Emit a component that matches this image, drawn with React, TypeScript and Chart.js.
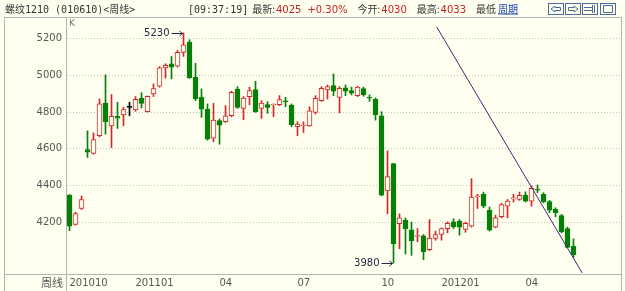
import React, { useEffect, useRef } from "react";
import { Chart, registerables } from "chart.js";

Chart.register(...registerables);

// Weekly candles for rebar contract 1210, oldest first
const OPEN = [
  4349, 4190, 4276, 4596, 4575, 4671, 4849, 4725, 4778, 4784,
  4825, 4811, 4876, 4802, 4898, 4940, 5040, 5062, 5049, 5124,
  5180, 4989, 4880, 4816, 4658, 4753, 4747, 4780, 4925, 4820,
  4884, 4922, 4820, 4840, 4838, 4840, 4858, 4838, 4720, 4724,
  4725, 4798, 4862, 4920, 4944, 4880, 4931, 4916, 4889, 4927,
  4878, 4871, 4780, 4371, 4520, 4193, 4213, 4160, 4124, 4127,
  4053, 4113, 4135, 4167, 4204, 4207, 4162, 4180, 4340, 4353,
  4267, 4175, 4231, 4289, 4328, 4325, 4349, 4316, 4378, 4353,
  4313, 4271, 4238, 4167, 4071,
];
const HIGH = [
  4352, 4256, 4344, 4698, 4687, 4871, 5002, 4895, 4853, 4825,
  4853, 4884, 4905, 4887, 4953, 5047, 5062, 5102, 5135, 5230,
  5193, 5065, 4925, 4844, 4847, 4762, 4835, 4913, 4938, 4884,
  4935, 4967, 4862, 4856, 4844, 4889, 4880, 4844, 4747, 4747,
  4829, 4889, 4938, 4947, 5007, 4938, 4947, 4935, 4940, 4935,
  4893, 4876, 4802, 4589, 4522, 4247, 4225, 4202, 4167, 4135,
  4216, 4153, 4171, 4204, 4220, 4216, 4202, 4438, 4353, 4365,
  4284, 4240, 4304, 4325, 4353, 4365, 4367, 4398, 4404, 4362,
  4320, 4280, 4244, 4175, 4111,
];
const LOW = [
  4156, 4186, 4271, 4553, 4571, 4665, 4680, 4607, 4711, 4725,
  4780, 4804, 4822, 4800, 4884, 4935, 4984, 4980, 5044, 5102,
  4983, 4862, 4771, 4647, 4638, 4625, 4744, 4775, 4820, 4758,
  4840, 4798, 4765, 4793, 4775, 4835, 4829, 4720, 4671, 4689,
  4722, 4789, 4858, 4871, 4889, 4795, 4889, 4893, 4884, 4886,
  4858, 4756, 4345, 4247, 3980, 4058, 4029, 4022, 4095, 3998,
  4047, 4104, 4104, 4144, 4167, 4131, 4147, 4175, 4276, 4280,
  4153, 4171, 4225, 4225, 4311, 4320, 4311, 4289, 4362, 4307,
  4253, 4231, 4144, 4062, 4011,
];
const CLOSE = [
  4180, 4249, 4325, 4582, 4651, 4844, 4747, 4776, 4767, 4813,
  4825, 4869, 4847, 4885, 4927, 5040, 5053, 5044, 5124, 5165,
  4985, 4871, 4816, 4653, 4756, 4729, 4780, 4907, 4825, 4876,
  4916, 4802, 4849, 4825, 4842, 4867, 4855, 4731, 4735, 4727,
  4807, 4875, 4929, 4938, 4913, 4929, 4913, 4902, 4935, 4893,
  4875, 4785, 4349, 4449, 4085, 4225, 4167, 4102, 4127, 4040,
  4116, 4135, 4167, 4195, 4176, 4175, 4195, 4338, 4344, 4289,
  4158, 4225, 4298, 4316, 4331, 4347, 4316, 4385, 4376, 4313,
  4267, 4253, 4149, 4065, 4025,
];

// Hand-drawn down-trend line (week index, price)
const TREND_X = [61.2, 85.45];
const TREND_Y = [5262, 3926];

// Axis ticks
const Y_TICKS = [4200, 4400, 4600, 4800, 5000, 5200];
const X_TICK_AT = [0, 11, 25, 38, 52, 62, 76];
const X_TICK_TEXT = ["201010", "201101", "04", "07", "10", "201201", "04"];

// Quote header
const TITLE = "螺纹1210 (010610)<周线>";
const CLOCK = "[09:37:19]";
const LAST = "4025";
const CHANGE = "+0.30%";
const OPEN_TODAY = "4030";
const HIGH_TODAY = "4033";

const W = 625;
const H = 291;
const BG = "#fffff0";
const UP = "#d02828";
const DOWN = "#078007";
const FLAT = "#000000";
const GRID = "#c4c4c4";
const FRAME = "#b4b4b4";
const TEXT = "#333333";
const NUM_RED = "#c81e1e";
const LINK = "#1a3fb0";
const TREND_COLOR = "#4d2377";

const CJK = "'Noto Sans CJK SC'";
const MONO = "'DejaVu Sans Mono'";
const SANS = "'DejaVu Sans'";

// x scale: first candle centred just inside the left axis, 6px per week
const X_MIN = -2.5 / 6;
const X_MAX = X_MIN + 554 / 6;
// y scale framing around the 4200..5200 grid
const Y_MIN = 3920.3;
const Y_MAX = 5310.7;

function candleColor(i: number | undefined): string {
  if (i === undefined) return FLAT;
  if (CLOSE[i] > OPEN[i]) return UP;
  if (CLOSE[i] < OPEN[i]) return DOWN;
  return FLAT;
}
function bodyFill(i: number | undefined): string {
  if (i === undefined) return BG;
  return CLOSE[i] > OPEN[i] ? BG : candleColor(i);
}

function line(ctx: CanvasRenderingContext2D, x1: number, y1: number, x2: number, y2: number) {
  ctx.beginPath();
  ctx.moveTo(x1, y1);
  ctx.lineTo(x2, y2);
  ctx.stroke();
}

function drawHeader(ctx: CanvasRenderingContext2D) {
  const base = 12.5;
  ctx.textBaseline = "alphabetic";
  ctx.textAlign = "left";
  const mix = `10px ${MONO}, ${CJK}`;
  const cjk = `10px ${CJK}`;
  const num = `10px ${SANS}`;
  let x = 0;
  // writes a piece and advances the pen
  const put = (t: string, color: string, font: string, gap = 0) => {
    ctx.font = font;
    ctx.fillStyle = color;
    ctx.fillText(t, x, base);
    const w = ctx.measureText(t).width;
    const start = x;
    x += w + gap;
    return [start, start + w];
  };
  x = 5;
  put(TITLE, TEXT, mix);
  x = 188;
  put(CLOCK, TEXT, mix, 4);
  put("最新:", TEXT, cjk, 1);
  put(LAST, NUM_RED, num, 6);
  put(CHANGE, NUM_RED, num, 10);
  put("今开:", TEXT, cjk, 1);
  put(OPEN_TODAY, NUM_RED, num, 10);
  put("最高:", TEXT, cjk, 1);
  put(HIGH_TODAY, NUM_RED, num, 10);
  put("最低", TEXT, cjk, 2);
  const [ls, le] = put("周期", LINK, cjk);
  ctx.strokeStyle = LINK;
  ctx.lineWidth = 1;
  line(ctx, ls, base + 1.5, le, base + 1.5);

  // toolbar buttons
  const boxes = [548, 565, 582, 600];
  ctx.strokeStyle = "#4a6a9a";
  boxes.forEach((bx, k) => {
    ctx.strokeRect(bx + 0.5, 3.5, 15, 11);
    ctx.beginPath();
    const cy = 9;
    if (k === 0) {
      ctx.moveTo(bx + 3, cy);
      ctx.lineTo(bx + 7, cy - 3);
      ctx.lineTo(bx + 7, cy - 1.5);
      ctx.lineTo(bx + 12.5, cy - 1.5);
      ctx.lineTo(bx + 12.5, cy + 1.5);
      ctx.lineTo(bx + 7, cy + 1.5);
      ctx.lineTo(bx + 7, cy + 3);
      ctx.closePath();
    } else if (k === 1) {
      ctx.moveTo(bx + 13, cy);
      ctx.lineTo(bx + 9, cy - 3);
      ctx.lineTo(bx + 9, cy - 1.5);
      ctx.lineTo(bx + 3.5, cy - 1.5);
      ctx.lineTo(bx + 3.5, cy + 1.5);
      ctx.lineTo(bx + 9, cy + 1.5);
      ctx.lineTo(bx + 9, cy + 3);
      ctx.closePath();
    } else if (k === 2) {
      ctx.moveTo(bx + 2, cy - 1.5);
      ctx.lineTo(bx + 10, cy - 1.5);
      ctx.moveTo(bx + 2, cy + 1.5);
      ctx.lineTo(bx + 10, cy + 1.5);
      ctx.moveTo(bx + 10.5, 5);
      ctx.lineTo(bx + 10.5, 13);
      ctx.moveTo(bx + 12.5, 5);
      ctx.lineTo(bx + 12.5, 13);
    } else {
      ctx.rect(bx + 3.5, 5.5, 9, 7);
    }
    ctx.stroke();
  });
}

function drawArrowLabel(ctx: CanvasRenderingContext2D, text: string, tipX: number, tipY: number) {
  ctx.strokeStyle = "#222a44";
  ctx.fillStyle = "#222a44";
  ctx.lineWidth = 1;
  const y = Math.round(tipY) + 0.5;
  line(ctx, tipX - 11, y, tipX, y);
  line(ctx, tipX - 3, y - 2.5, tipX, y);
  line(ctx, tipX - 3, y + 2.5, tipX, y);
  ctx.font = `10px ${SANS}`;
  ctx.textAlign = "right";
  ctx.textBaseline = "middle";
  ctx.fillText(text, tipX - 13, y);
}

const framePlugin = {
  id: "quoteFrame",
  beforeDraw(chart: any) {
    const ctx: CanvasRenderingContext2D = chart.ctx;
    ctx.save();
    ctx.fillStyle = BG;
    ctx.fillRect(0, 0, W, H);
    drawHeader(ctx);
    ctx.restore();
  },
  afterDatasetsDraw(chart: any) {
    const ctx: CanvasRenderingContext2D = chart.ctx;
    const xs = chart.scales.x;
    const ys = chart.scales.y;
    ctx.save();
    const hi = Math.max(...HIGH);
    const hiIdx = HIGH.indexOf(hi);
    drawArrowLabel(ctx, String(hi), xs.getPixelForValue(hiIdx) - 1, ys.getPixelForValue(hi));
    const lo = Math.min(...LOW);
    const loIdx = LOW.indexOf(lo);
    drawArrowLabel(ctx, String(lo), xs.getPixelForValue(loIdx) - 1, ys.getPixelForValue(lo));
    ctx.restore();
  },
  afterDraw(chart: any) {
    const ctx: CanvasRenderingContext2D = chart.ctx;
    const area = chart.chartArea;
    ctx.save();
    ctx.strokeStyle = FRAME;
    ctx.lineWidth = 1;
    line(ctx, 4, 17.5, 622, 17.5);
    line(ctx, 4.5, 17.5, 4.5, H);
    line(ctx, 621.5, 17.5, 621.5, H);
    line(ctx, area.left - 0.5, 17.5, area.left - 0.5, H);
    line(ctx, 4, area.bottom + 0.5, 622, area.bottom + 0.5);
    ctx.fillStyle = "#777777";
    ctx.font = `9px ${SANS}`;
    ctx.textAlign = "left";
    ctx.textBaseline = "middle";
    ctx.fillText("K", area.left + 2, 24);
    ctx.fillStyle = "#555555";
    ctx.font = `11px ${CJK}`;
    ctx.textAlign = "right";
    ctx.fillText("周线", area.left - 4, area.bottom + 9);
    ctx.restore();
  },
};

export default function App() {
  const ref = useRef<HTMLCanvasElement | null>(null);

  useEffect(() => {
    const canvas = ref.current;
    if (!canvas) return;
    const chart = new Chart(canvas, {
      type: "bar",
      data: {
        datasets: [
          {
            type: "line",
            label: "trend",
            data: TREND_X.map((x, k) => ({ x, y: TREND_Y[k] })),
            borderColor: TREND_COLOR,
            borderWidth: 1,
            pointRadius: 0,
            order: 0,
          } as any,
          {
            label: "body",
            data: OPEN.map((o, i) => ({ x: i, y: [o, CLOSE[i]] })),
            backgroundColor: (c: any) => bodyFill(c.dataIndex),
            borderColor: (c: any) => candleColor(c.dataIndex),
            borderWidth: 1,
            borderSkipped: false,
            barThickness: 5,
            minBarLength: 1,
            grouped: false,
            order: 1,
          } as any,
          {
            label: "wick",
            data: LOW.map((l, i) => ({ x: i, y: [l, HIGH[i]] })),
            backgroundColor: (c: any) => candleColor(c.dataIndex),
            borderWidth: 0,
            barThickness: 1,
            grouped: false,
            order: 2,
          } as any,
        ],
      },
      options: {
        responsive: false,
        animation: false,
        devicePixelRatio: 1,
        layout: { padding: { top: 18, right: 4, left: 0, bottom: 0 } },
        plugins: { legend: { display: false }, tooltip: { enabled: false } },
        scales: {
          x: {
            type: "linear",
            offset: false,
            min: X_MIN,
            max: X_MAX,
            afterBuildTicks: (s: any) => {
              s.ticks = X_TICK_AT.map((v) => ({ value: v }));
            },
            afterFit: (s: any) => {
              s.height = 17;
            },
            grid: { display: false, drawTicks: false, offset: false },
            border: { display: false },
            ticks: {
              autoSkip: false,
              maxRotation: 0,
              align: "start",
              padding: 3,
              color: "#555555",
              font: { family: "DejaVu Sans", size: 10 },
              callback: (_v: any, idx: number) => X_TICK_TEXT[idx],
            },
          },
          y: {
            type: "linear",
            min: Y_MIN,
            max: Y_MAX,
            afterBuildTicks: (s: any) => {
              s.ticks = Y_TICKS.map((v) => ({ value: v }));
            },
            afterFit: (s: any) => {
              s.width = 67;
            },
            grid: { color: GRID, lineWidth: 1, drawTicks: false },
            border: { display: false, dash: [1, 2] },
            ticks: {
              padding: 5,
              color: "#555555",
              font: { family: "DejaVu Sans", size: 10 },
              callback: (v: any) => String(v),
            },
          },
        },
      } as any,
      plugins: [framePlugin],
    });
    return () => chart.destroy();
  }, []);

  return (
    <div style={{ position: "absolute", left: 0, top: 0, width: W, height: H }}>
      <canvas ref={ref} width={W} height={H} style={{ width: W, height: H, display: "block" }} />
    </div>
  );
}
